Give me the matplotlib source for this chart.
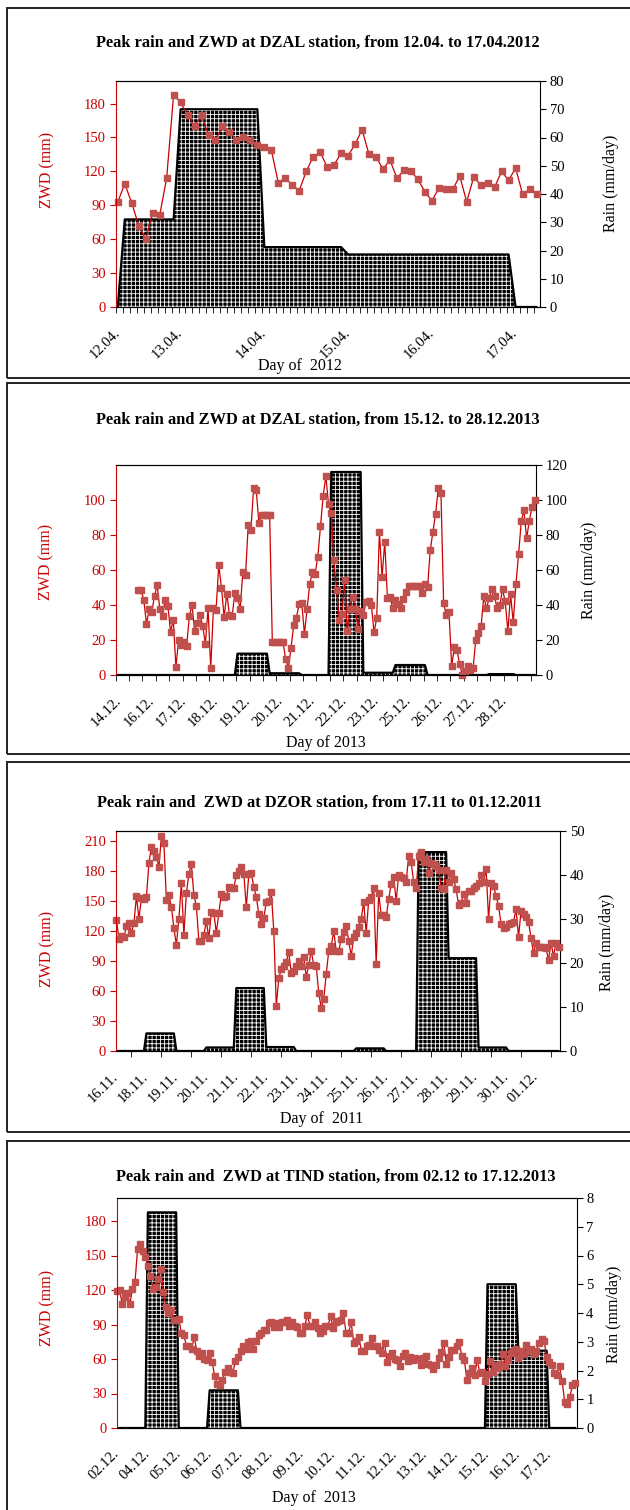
import numpy as np
import matplotlib
matplotlib.use("Agg")
import matplotlib.pyplot as plt
from matplotlib.patches import Rectangle

plt.rcParams['font.family'] = ['Liberation Serif', 'DejaVu Serif']
plt.rcParams['hatch.linewidth'] = 0.6

W, H = 630, 1510
RED = '#cc0000'
MARK = '#c0504d'

# ---- panel 1: DZAL, April 2012 ----
p1_title = "Peak rain and ZWD at DZAL station, from 12.04. to 17.04.2012"
p1_zwd = [93, 109, 92, 72, 60, 83, 81, 114, 188, 181,
          170, 160, 170, 152, 148, 160, 155, 148, 150, 148,
          143, 142, 139, 110, 114, 108, 103, 120, 133, 137,
          124, 126, 136, 134, 144, 157, 135, 133, 122, 130,
          114, 121, 120, 113, 102, 94, 105, 104, 104, 116,
          93, 115, 108, 110, 106, 120, 112, 123, 100, 104, 100]
p1_rain_val = [0, 31, 70, 21.2, 18.6, 0]
p1_rain_len = [1, 8, 12, 12, 24, 4]
p1_labels = ["12.04.", "13.04.", "14.04.", "15.04.", "16.04.", "17.04."]
p1_label_pos = [0, 9, 21, 33, 45, 57]

# ---- panel 2: DZAL, December 2013 ----
p2_title = "Peak rain and ZWD at DZAL station, from 15.12. to 28.12.2013"
p2_zwd = [np.nan] * 8 + [
    48.4, 48.4, 42.9, 29, 37.5, 36.2, 45.3, 51.2, 37.5, 33.7,
    42.9, 39.4, 24.6, 31.6, 4.6, 20, 17, 18.9, 16.4, 33.5,
    39.8, 25.1, 29.9, 34.3, 27.8, 17.9, 38.1, 3.8, 38.1, 37.3,
    62.9, 49.9, 33.1, 46.5, 34.3, 33.5, 47, 44.2, 37.9, 59,
    57.1, 85.5, 82.7, 106.7, 105.5, 86.9, 91.6, 91.6, 91.6, 91.6,
    19, 19, 19, 19, 19,
    9, 4.2, 15.6, 28.4, 32.8, 40.4, 41, 23.6, 37.9, 52.2,
    59, 57.9, 67.6, 85.3, 102.5, 113.7, 97.5, 92.8, 65.5, 48.4,
    31.4, 35, 54.3, 25.1, 37.9, 44.6, 37.5, 26.5, 36.6, 34.1,
    41.7, 42.3, 39.8, 24.6, 32.4, 81.7, 56, 76.2, 43.8, 44.6,
    38.1, 42.7, 40.8, 38.1, 43.2, 47.6, 50.9, 50.9, 50.9, 50.9,
    50.9, 46.7, 52.2, 50.3, 71.4, 81.7, 92.2, 107, 104,
    41, 34, 36, 5, 16, 14, 6, 0, 2, 5,
    3, 4, 20, 24, 28, 45, 38, 44, 49, 45,
    38, 40, 49, 42, 25, 46, 30, 52, 69, 88,
    94, 78, 88, 96, 100]
p2_rain_val = [0, 12.2, 1, 0, 116, 1.3, 5.7, 0, 0.5, 0]
p2_rain_len = [45, 12, 12, 11, 12, 12, 12, 23, 10, 8]
p2_labels = ["14.12.", "16.12.", "17.12.", "18.12.", "19.12.", "20.12.", "21.12.",
             "22.12.", "23.12.", "25.12.", "26.12.", "27.12.", "28.12."]
p2_label_pos = [1, 13, 25, 37, 49, 61, 73, 85, 97, 109, 121, 133, 145]

# ---- panel 3: DZOR, November 2011 ----
p3_title = "Peak rain and  ZWD at DZOR station, from 17.11 to 01.12.2011"
p3_zwd = [131, 112, 115, 114, 125, 128, 118, 128, 155, 132,
          153, 152, 154, 188, 204, 200, 194, 184, 215, 208,
          151, 156, 144, 123, 106, 132, 168, 116, 158, 177,
          187, 156, 145, 110, 110, 116, 130, 113, 139, 138,
          118, 138, 157, 154, 155, 164, 163, 163, 176, 180,
          184, 177, 144, 177, 178, 164, 154, 137, 127, 133,
          149, 150, 159, 120, 45, 73, 82, 85, 89, 99,
          78, 80, 85, 90, 85, 94, 74, 86, 100, 86,
          85, 58, 43, 52, 77, 100, 105, 120, 100, 100,
          112, 119, 125, 110, 95, 114, 118, 124, 132, 149,
          118, 151, 154, 163, 87, 158, 136, 136, 134, 152,
          167, 174, 150, 176, 174, 173, 169, 195, 189, 169,
          163, 195, 199, 189, 192, 178, 188, 187, 185, 181,
          163, 162, 181, 169, 178, 172, 162, 146, 148, 157,
          148, 160, 160, 163, 165, 168, 176, 169, 182, 132,
          168, 165, 155, 145, 127, 123, 124, 127, 128, 129,
          142, 114, 140, 137, 134, 129, 113, 98, 108, 104,
          104, 104, 103, 91, 108, 95, 108, 104]
p3_rain_val = [0, 4, 0, 0.8, 14.3, 0.9, 0, 0.6, 0, 45.2, 21.1, 0.8, 0]
p3_rain_len = [12, 12, 12, 12, 12, 12, 24, 12, 13, 12, 12, 12, 21]
p3_labels = ["16.11.", "18.11.", "19.11.", "20.11.", "21.11.", "22.11.", "23.11.", "24.11.",
             "25.11.", "26.11.", "27.11.", "28.11.", "29.11.", "30.11.", "01.12."]
p3_label_pos = [0, 12, 24, 36, 48, 60, 72, 84, 96, 108, 120, 132, 144, 156, 168]

# ---- panel 4: TIND, December 2013 ----
p4_title = "Peak rain and  ZWD at TIND station, from 02.12 to 17.12.2013"
p4_zwd = [119, 120, 108, 114, 117, 108, 121, 127, 156, 160,
          154, 149, 141, 132, 121, 123, 130, 138, 118, 105,
          100, 103, 94, 94, 95, 83, 81, 71, 71, 69,
          79, 67, 63, 65, 60, 59, 65, 57, 45, 38,
          37, 42, 49, 52, 49, 48, 58, 62, 67, 71,
          69, 75, 76, 69, 76, 81, 83, 85, 85, 91,
          92, 88, 91, 88, 92, 92, 94, 89,
          92, 89, 88, 83, 83, 89, 98, 89, 89, 92,
          87, 83, 84, 89, 89, 97, 87, 92, 93, 94,
          100, 83, 83, 92, 74, 76, 79, 67, 67, 71,
          72, 78, 71, 71, 68, 65, 74, 57, 63, 65,
          60, 59, 54, 63, 65, 58, 62, 59, 61, 60,
          55, 61, 63, 56, 55, 51, 55, 61, 66, 74,
          56, 62, 68, 68, 71, 75, 63, 59, 42, 48,
          52, 46, 59, 48, 49,
          41, 47, 58, 49, 55, 52, 56, 64, 54, 59,
          65, 67, 69, 61, 67, 64, 72, 67, 69, 64,
          67, 74, 77, 76, 62, 57, 55, 48, 46, 54,
          41, 23, 21, 27, 37, 39]
p4_rain_val = [0, 7.5, 0, 1.31, 0, 5.0, 2.69, 0]
p4_rain_len = [12, 12, 12, 12, 96, 12, 12, 11]
p4_labels = ["02.12.", "04.12.", "05.12.", "06.12.", "07.12.", "08.12.", "09.12.", "10.12.",
             "11.12.", "12.12.", "13.12.", "14.12.", "15.12.", "16.12.", "17.12."]
p4_label_pos = [0, 12, 24, 36, 48, 60, 72, 84, 96, 108, 120, 132, 144, 156, 168]


def fx(x):
    return x / W


def fy(y):
    return 1 - y / H


def panel(fig, frame, box, title, title_xy, zwd, rain_val, rain_len,
          zlim, zstep, rlim, rstep, xlim, minor, label_pos, labels,
          xlabel, xlabel_xy, zlab_xy, rlab_xy):
    # frame around the whole chart
    fig.add_artist(Rectangle((fx(frame[0]), fy(frame[3])), (frame[2] - frame[0]) / W,
                             (frame[3] - frame[1]) / H, transform=fig.transFigure,
                             fill=False, lw=1.4, ec='#222222'))
    l, t, r, b = box
    ax = fig.add_axes([fx(l), fy(b), (r - l) / W, (b - t) / H])
    ax2 = ax.twinx()
    ax.set_zorder(ax2.get_zorder() + 1)
    ax.patch.set_visible(False)

    zwd = np.array(zwd, dtype=float)
    x = np.arange(len(zwd))
    rain = np.repeat(rain_val, rain_len)

    ax2.fill_between(x, rain, 0, facecolor='black', edgecolor='white',
                     hatch='++++', linewidth=0)
    ax2.plot(x, rain, color='black', lw=1.6)
    ax.plot(x, zwd, color=RED, lw=0.9, marker='s', ms=3.8,
            mfc=MARK, mec=MARK, clip_on=False)

    ax.set_xlim(xlim)
    ax.set_ylim(zlim)
    ax.set_yticks(np.arange(0, zlim[1] - 1, zstep))
    ax2.set_ylim(rlim)
    ax2.set_yticks(np.arange(0, rlim[1] + 0.01, rstep))

    ax.spines['left'].set_color(RED)
    ax.spines['right'].set_visible(False)
    ax2.spines['left'].set_visible(False)
    ax.tick_params(axis='y', colors=RED, labelsize=10.5, length=4, pad=3)
    ax2.tick_params(axis='y', colors='black', labelsize=10.5, length=4, pad=3)

    ax.set_xticks(label_pos)
    ax.set_xticklabels(labels, rotation=45, ha='right', va='center',
                       rotation_mode='anchor', fontsize=10.5)
    ax.tick_params(axis='x', which='major', length=0, pad=17)
    ax.set_xticks(minor, minor=True)
    ax.tick_params(axis='x', which='minor', length=4)

    fig.text(fx(title_xy[0]), fy(title_xy[1]), title, ha='center', va='center',
             fontsize=11.8, fontweight='bold')
    fig.text(fx(xlabel_xy[0]), fy(xlabel_xy[1]), xlabel, ha='center', va='center',
             fontsize=11.5)
    fig.text(fx(zlab_xy[0]), fy(zlab_xy[1]), 'ZWD (mm)', rotation=90, color=RED,
             ha='center', va='center', fontsize=11.5)
    fig.text(fx(rlab_xy[0]), fy(rlab_xy[1]), 'Rain (mm/day)', rotation=90,
             ha='center', va='center', fontsize=11.5)


fig = plt.figure(figsize=(W / 100, H / 100), dpi=100)

panel(fig, (7, 8, 650, 378), (115.7, 81, 540, 307), p1_title, (318, 43),
      p1_zwd, p1_rain_val, p1_rain_len, (0, 200), 30, (0, 80), 10,
      (-0.3, 60.5), np.arange(61) - 0.3, p1_label_pos, p1_labels,
      "Day of  2012", (300, 366), (47, 170), (611, 183))

panel(fig, (7, 383, 650, 754), (115.7, 465, 536, 675), p2_title, (318, 420),
      p2_zwd, p2_rain_val, p2_rain_len, (0, 120), 20, (0, 120), 20,
      (-0.5, 156.5), np.arange(-0.5, 157, 5), p2_label_pos, p2_labels,
      "Day of 2013", (326, 743), (46, 562), (589, 570))

panel(fig, (7, 762, 650, 1132), (115.7, 831, 560, 1051), p3_title, (319, 803),
      p3_zwd, p3_rain_val, p3_rain_len, (0, 220), 30, (0, 50), 10,
      (-0.3, 177.6), np.arange(0, 178, 6), p3_label_pos, p3_labels,
      "Day of  2011", (322, 1119), (47, 949), (607, 942))

panel(fig, (7, 1141, 650, 1530), (116.5, 1198, 576.5, 1428), p4_title, (336, 1177),
      p4_zwd, p4_rain_val, p4_rain_len, (0, 200), 30, (0, 8), 1,
      (-0.2, 178.6), np.arange(0, 179, 12), p4_label_pos, p4_labels,
      "Day of  2013", (314, 1498), (47, 1308), (614, 1314))

fig.savefig("out.png", dpi=100)
